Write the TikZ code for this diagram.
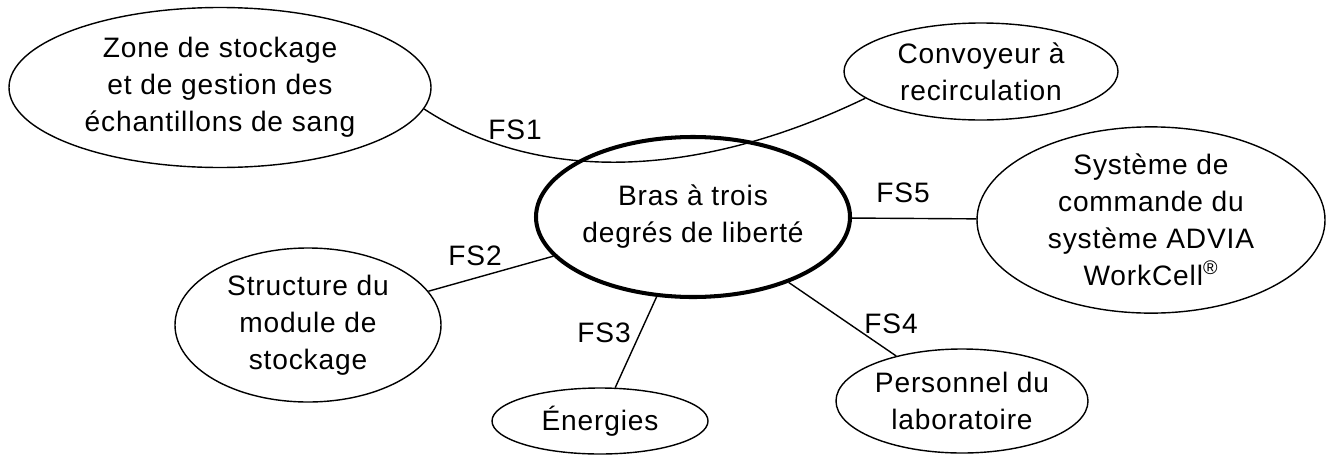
\documentclass[tikz,border=0pt]{standalone}
\usepackage{fontspec}
\setmainfont{Liberation Sans}[LetterSpace=3]
\usetikzlibrary{shapes.geometric}

\begin{document}
\begin{tikzpicture}[
    ell/.style={ellipse, draw, line width=0.8pt, inner sep=0pt, align=center,
        font=\fontsize{16}{21}\selectfont},
    fs/.style={font=\fontsize{16}{21}\selectfont, inner sep=0pt}
]
    \useasboundingbox (0, 0) rectangle (26.62, 9.08);

    % Draw nodes
    \node[ell, minimum width=8.44cm, minimum height=3.20cm] (zone) at (4.40, 7.33)
        {Zone de stockage\\et de gestion des\\échantillons de sang};
    \node[ell, minimum width=5.48cm, minimum height=1.94cm] (conv) at (19.62, 7.65)
        {Convoyeur à\\recirculation};
    \node[ell, line width=2.3pt, minimum width=6.28cm, minimum height=3.20cm] (bras) at (13.86, 4.74)
        {Bras à trois\\degrés de liberté};
    \node[ell, minimum width=6.96cm, minimum height=3.72cm] (sys) at (23.02, 4.68)
        {Système de\\commande du\\système ADVIA\\WorkCell\textsuperscript{®}};
    \node[ell, minimum width=5.32cm, minimum height=3.08cm] (struct) at (6.16, 2.58)
        {Structure du\\module de\\stockage};
    \node[ell, minimum width=4.32cm, minimum height=1.32cm] (energ) at (12.00, 0.66)
        {Énergies};
    \node[ell, minimum width=5.04cm, minimum height=2.08cm] (perso) at (19.24, 1.06)
        {Personnel du\\laboratoire};

    % Draw edges
    \draw[line width=0.8pt] (zone.-6) .. controls (10.80, 5.38) and (14.00, 5.52) .. (conv.193);
    \draw[line width=0.8pt] (bras) -- (struct);
    \draw[line width=0.8pt] (bras) -- (energ);
    \draw[line width=0.8pt] (bras) -- (perso);
    \draw[line width=0.8pt] (bras) -- (sys);

    % Labels
    \node[fs] (fs1) at (10.30, 6.48) {FS1};
    \node[fs] (fs2) at (9.50, 3.96) {FS2};
    \node[fs] (fs3) at (12.08, 2.42) {FS3};
    \node[fs] (fs4) at (17.82, 2.60) {FS4};
    \node[fs] (fs5) at (18.06, 5.22) {FS5};
\end{tikzpicture}
\end{document}
